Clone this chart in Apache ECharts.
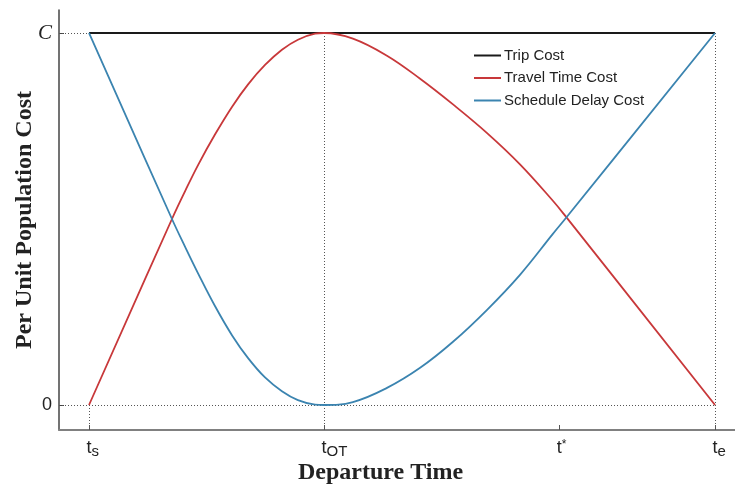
<!DOCTYPE html>
<html>
<head>
<meta charset="utf-8">
<script src="https://cdn.jsdelivr.net/npm/echarts@6/dist/echarts.min.js"></script>
<style>
  html, body { margin: 0; padding: 0; background: #ffffff; }
  #chart { width: 735px; height: 488px; }
</style>
</head>
<body>
<div id="chart"></div>
<script>
// Departure time in units where t_s = 0, t_OT = 1, t* = 2; cost in units of C (= 1).
const tickValues = [0, 1, 2, 2.664];
const tickSuffix = ['s', 'OT', '*', 'e'];
const costTicks = [0, 1];
const costLabels = ['0', 'C'];

// Trip cost stays at C over the whole departure window [t_s, t_e].
const tripTimes = [0, 2.664];
const tripCost = [1, 1];

// Sampled departure times shared by the two cost components.
const departure = [0, 0.353, 0.409, 0.464, 0.536, 0.609, 0.677, 0.749, 0.821, 0.889, 0.962, 1.0,
                   1.123, 1.268, 1.409, 1.549, 1.694, 1.834, 1.974, 2.026, 2.664];
const travelTimeCost = [0, 0.5, 0.575, 0.645, 0.727, 0.802, 0.862, 0.914, 0.955, 0.982, 0.998, 1.0,
                        0.985, 0.939, 0.877, 0.808, 0.731, 0.647, 0.549, 0.509, 0];
const scheduleDelayCost = [1, 0.5, 0.425, 0.354, 0.266, 0.187, 0.126, 0.074, 0.037, 0.013, 0.001, 0,
                           0.008, 0.046, 0.100, 0.170, 0.256, 0.350, 0.460, 0.5, 1];

// Visible axis window.
const X_MIN = -0.1277, X_MAX = 2.749;
const Y_MIN = -0.0672, Y_MAX = 1.0618;

const zip = (xs, ys) => xs.map((x, i) => [x, ys[i]]);

const tS = tickValues[0], tOT = tickValues[1], tE = tickValues[3];
const C = costTicks[1], ZERO = costTicks[0];

const dotted = { color: '#555', width: 1, type: [1, 2] };
const guideLines = [
  [{ coord: [X_MIN, ZERO] }, { coord: [tE, ZERO] }],
  [{ coord: [X_MIN, C] }, { coord: [tE, C] }],
  [{ coord: [tS, Y_MIN] }, { coord: [tS, ZERO] }],
  [{ coord: [tOT, Y_MIN] }, { coord: [tOT, C] }],
  [{ coord: [tE, Y_MIN] }, { coord: [tE, C] }]
];

// Widths of the left spacers keep the letter "t" centred on its tick.
const padWidth = { 's': 7.5, 'OT': 21, '*': 5, 'e': 8.5 };
const richX = {
  m: { fontFamily: 'Liberation Sans', fontSize: 18, lineHeight: 18, padding: [3, 0, 0, 0], verticalAlign: 'top', color: '#222' },
  sub: { fontFamily: 'Liberation Sans', fontSize: 15, lineHeight: 15, padding: [8, 0, 0, 0], verticalAlign: 'top', color: '#222' },
  sup: { fontFamily: 'Liberation Sans', fontSize: 12, lineHeight: 12, padding: [3, 0, 0, 0], verticalAlign: 'top', color: '#222' }
};
tickSuffix.forEach((s, i) => {
  richX['p' + i] = { width: padWidth[s], fontSize: 10, lineHeight: 10, verticalAlign: 'top' };
});

const chart = echarts.init(document.getElementById('chart'), null, { renderer: 'canvas' });

chart.setOption({
  animation: false,
  backgroundColor: '#ffffff',
  grid: { left: 59, right: 0, top: 10, bottom: 58, containLabel: false, outerBoundsMode: 'none' },
  legend: {
    orient: 'vertical',
    left: 473,
    top: 48,
    padding: 0,
    itemWidth: 27,
    itemHeight: 14,
    itemGap: 7.5,
    itemStyle: { opacity: 0 },
    textStyle: { fontFamily: 'Liberation Sans', fontSize: 15, color: '#222', padding: [0, 0, 0, -2] },
    data: ['Trip Cost', 'Travel Time Cost', 'Schedule Delay Cost']
  },
  xAxis: {
    type: 'value',
    min: X_MIN,
    max: X_MAX,
    name: 'Departure Time',
    nameLocation: 'middle',
    nameGap: 31,
    nameMoveOverlap: false,
    nameTextStyle: { fontFamily: 'Liberation Serif', fontWeight: 'bold', fontSize: 24, color: '#222', padding: [0, 33, 0, 0] },
    axisLine: { show: true, onZero: false, lineStyle: { color: '#808080', width: 2 } },
    axisTick: { show: true, inside: true, length: 5, customValues: tickValues, lineStyle: { color: '#555', width: 1 } },
    axisLabel: {
      show: true,
      margin: 6,
      customValues: tickValues,
      formatter: (v) => {
        const i = tickValues.findIndex(t => Math.abs(t - v) < 1e-6);
        const s = tickSuffix[i];
        return '{p' + i + '| }{m|t}{' + (s === '*' ? 'sup' : 'sub') + '|' + s + '}';
      },
      rich: richX
    },
    splitLine: { show: false }
  },
  yAxis: {
    type: 'value',
    min: Y_MIN,
    max: Y_MAX,
    name: 'Per Unit Population Cost',
    nameLocation: 'middle',
    nameGap: 22,
    nameMoveOverlap: false,
    nameTextStyle: { fontFamily: 'Liberation Serif', fontWeight: 'bold', fontSize: 24, color: '#222' },
    axisLine: { show: true, onZero: false, lineStyle: { color: '#444', width: 1.5 } },
    axisTick: { show: true, inside: true, length: 5, customValues: costTicks, lineStyle: { color: '#444', width: 1 } },
    axisLabel: {
      show: true,
      margin: 7,
      customValues: costTicks,
      formatter: (v) => {
        const i = costTicks.findIndex(t => Math.abs(t - v) < 1e-6);
        return i === 1 ? '{c|' + costLabels[i] + '}' : '{n|' + costLabels[i] + '}';
      },
      rich: {
        n: { fontFamily: 'Liberation Sans', fontSize: 18, color: '#222' },
        c: { fontFamily: 'Liberation Serif', fontStyle: 'italic', fontSize: 21, color: '#222' }
      }
    },
    splitLine: { show: false }
  },
  series: [
    {
      name: 'Trip Cost',
      type: 'line',
      data: zip(tripTimes, tripCost),
      showSymbol: false,
      symbol: 'none',
      lineStyle: { color: '#1a1a1a', width: 2 },
      itemStyle: { color: '#1a1a1a' },
      z: 3,
      markLine: {
        silent: true,
        symbol: 'none',
        label: { show: false },
        lineStyle: dotted,
        z: 1,
        data: guideLines
      }
    },
    {
      name: 'Travel Time Cost',
      type: 'line',
      data: zip(departure, travelTimeCost),
      smooth: 0.4,
      showSymbol: false,
      symbol: 'none',
      lineStyle: { color: '#c8383a', width: 1.8 },
      itemStyle: { color: '#c8383a' },
      z: 4
    },
    {
      name: 'Schedule Delay Cost',
      type: 'line',
      data: zip(departure, scheduleDelayCost),
      smooth: 0.4,
      showSymbol: false,
      symbol: 'none',
      lineStyle: { color: '#3b84b0', width: 1.8 },
      itemStyle: { color: '#3b84b0' },
      z: 5
    }
  ]
});
</script>
</body>
</html>
